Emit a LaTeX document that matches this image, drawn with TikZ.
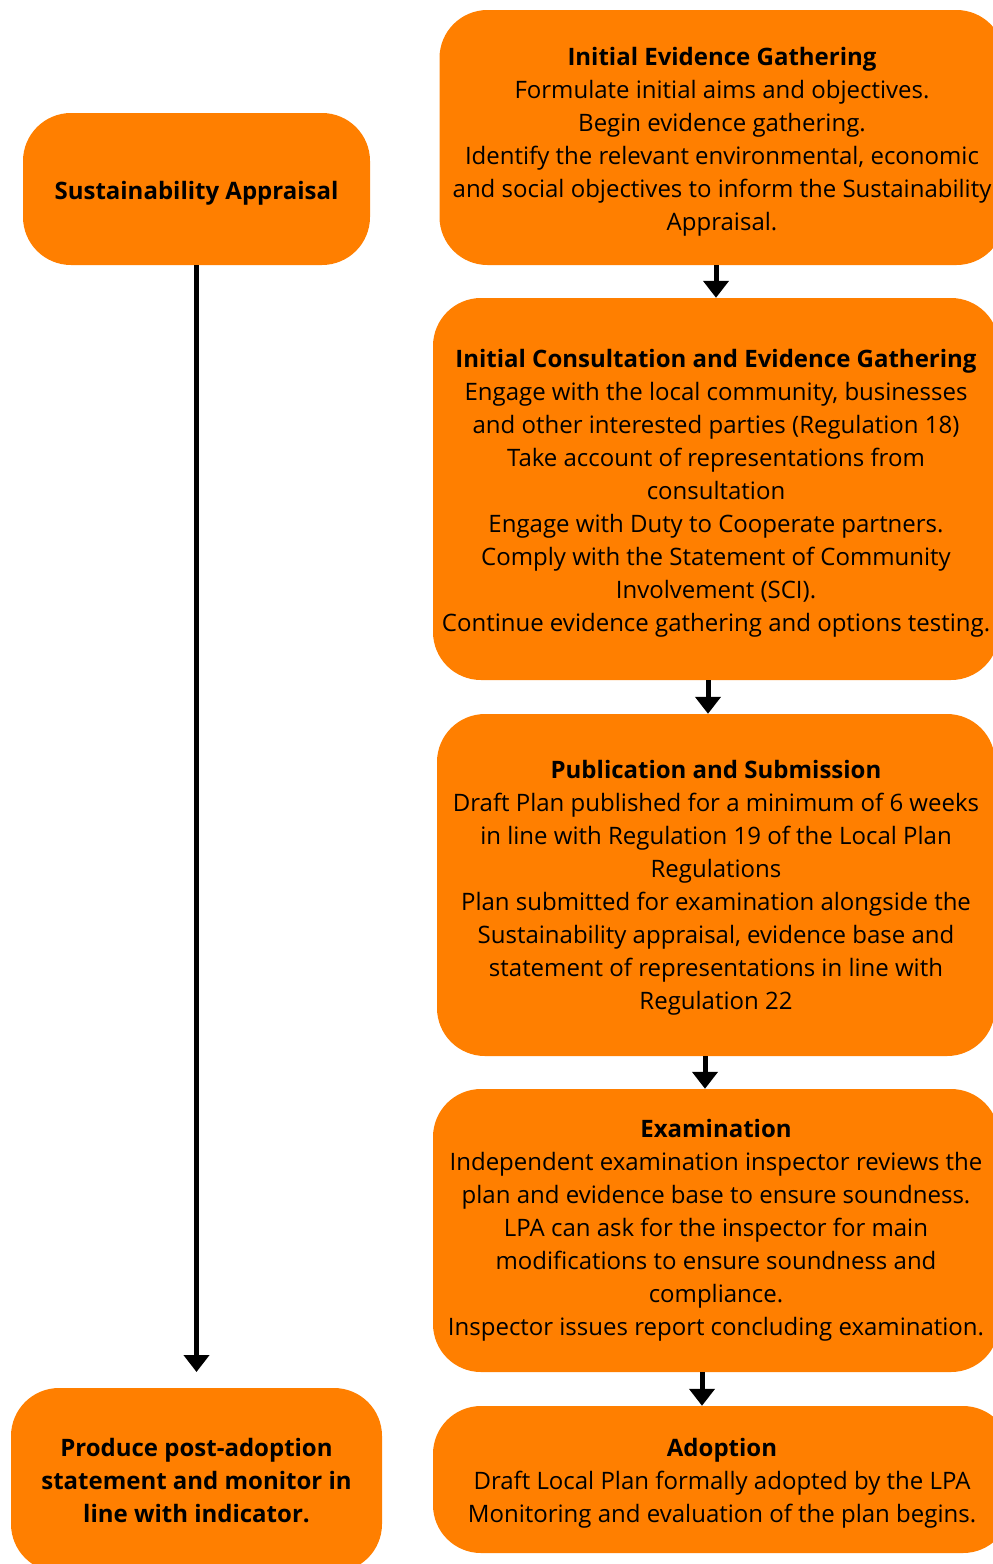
\documentclass[tikz,border=0pt]{standalone}
\usepackage{fontspec}
\setmainfont{Open Sans}
\usetikzlibrary{arrows.meta}
\definecolor{boxorange}{HTML}{FF7F00}
\tikzset{
  stageshape/.style={fill=boxorange, rounded corners=48pt, inner sep=0pt},
  stagetext/.style={align=center, inner sep=0pt, font=\fontsize{24}{33}\selectfont},
  sidetext/.style={stagetext, font=\fontsize{24}{33}\selectfont\bfseries},
  arr/.style={line width=5pt, -{Triangle[width=25pt,length=17pt]}}
}
\begin{document}
\begin{tikzpicture}[x=1pt,y=-1pt]
\useasboundingbox (0,0) rectangle (993,1564);
\clip (0,0) rectangle (993,1564);
\node[stageshape, minimum width=565pt, minimum height=255pt] (b1) at (722,137.5) {};
\node[stagetext] (t1) at ([yshift=-4pt]b1.center)
  {\textbf{Initial Evidence Gathering}\\
   Formulate initial aims and objectives.\\
   Begin evidence gathering.\\
   Identify the relevant environmental, economic\\
   and social objectives to inform the Sustainability\\
   Appraisal.};
\node[stageshape, minimum width=566pt, minimum height=382pt] (b2) at (716,489) {};
\node[stagetext] (t2) at ([yshift=-4pt]b2.center)
  {\textbf{Initial Consultation and Evidence Gathering}\\
   Engage with the local community, businesses\\
   and other interested parties (Regulation 18)\\
   Take account of representations from\\
   consultation\\
   Engage with Duty to Cooperate partners.\\
   Comply with the Statement of Community\\
   Involvement (SCI).\\
   Continue evidence gathering and options testing.};
\node[stageshape, minimum width=558pt, minimum height=342pt] (b3) at (716,885) {};
\node[stagetext] (t3) at ([yshift=-3pt]b3.center)
  {\textbf{Publication and Submission}\\
   Draft Plan published for a minimum of 6 weeks\\
   in line with Regulation 19 of the Local Plan\\
   Regulations\\
   Plan submitted for examination alongside the\\
   Sustainability appraisal, evidence base and\\
   statement of representations in line with\\
   Regulation 22};
\node[stageshape, minimum width=566pt, minimum height=283pt] (b4) at (716,1230.5) {};
\node[stagetext] (t4) at (b4.center)
  {\textbf{Examination}\\
   Independent examination inspector reviews the\\
   plan and evidence base to ensure soundness.\\
   LPA can ask for the inspector for main\\
   modifications to ensure soundness and\\
   compliance.\\
   Inspector issues report concluding examination.};
\node[stageshape, minimum width=578pt, minimum height=147pt] (b5) at (722,1479.5) {};
\node[stagetext] (t5) at ([yshift=-4pt]b5.center)
  {\textbf{Adoption}\\
   Draft Local Plan formally adopted by the LPA\\
   Monitoring and evaluation of the plan begins.};
\node[stageshape, minimum width=347pt, minimum height=152pt] (sa) at (196.5,189) {};
\node[sidetext] (tsa) at ([yshift=-4pt]sa.center) {Sustainability Appraisal};
\node[stageshape, minimum width=371pt, minimum height=184pt] (pa) at (196.5,1480) {};
\node[sidetext] (tpa) at ([yshift=-1pt]pa.center)
  {Produce post-adoption\\statement and monitor in\\line with indicator.};
\coordinate (x1) at (716,0);
\coordinate (x2) at (708,0);
\coordinate (x3) at (705,0);
\coordinate (x4) at (702,0);
\coordinate (saend) at (196.5,1372);
\draw[arr] (b1.south -| x1) -- (b2.north -| x1);
\draw[arr] (b2.south -| x2) -- (b3.north -| x2);
\draw[arr] (b3.south -| x3) -- (b4.north -| x3);
\draw[arr] (b4.south -| x4) -- (b5.north -| x4);
\draw[arr] (sa.south) -- (saend);
\end{tikzpicture}
\end{document}
